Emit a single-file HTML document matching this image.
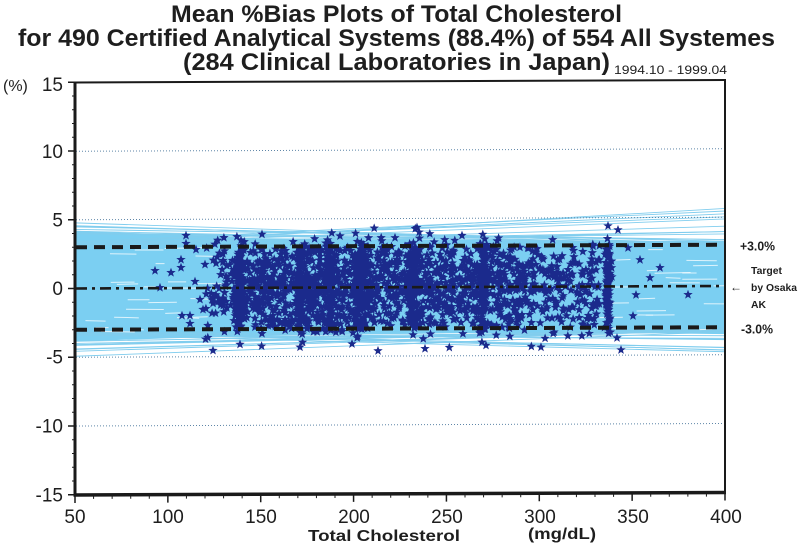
<!DOCTYPE html>
<html><head><meta charset="utf-8"><style>
html,body{margin:0;padding:0;background:#fff;}
svg{display:block;}
text{font-family:"Liberation Sans",Arial,sans-serif;fill:#1e1e1e;}
</style></head><body>
<svg id="s" width="799" height="549" viewBox="0 0 799 549" xmlns="http://www.w3.org/2000/svg">
<rect width="799" height="549" fill="#fff"/>
<text x="171" y="22" font-size="24.5" font-weight="bold" textLength="451" lengthAdjust="spacingAndGlyphs">Mean %Bias Plots of Total Cholesterol</text>
<text x="18" y="46" font-size="24.5" font-weight="bold" textLength="757" lengthAdjust="spacingAndGlyphs">for 490 Certified Analytical Systems (88.4%) of 554 All Systemes</text>
<text x="183" y="70" font-size="24.5" font-weight="bold" textLength="427" lengthAdjust="spacingAndGlyphs">(284 Clinical Laboratories in Japan)</text>
<text x="614" y="74" font-size="12" textLength="113" lengthAdjust="spacingAndGlyphs">1994.10 - 1999.04</text>

<g id="plot" transform="matrix(1,-0.00385,0,1,0,0.289)">
  <g id="band"></g>
  <g stroke="#5f86a8" stroke-width="1" stroke-dasharray="1 2" fill="none">
    <line x1="76" y1="151.25" x2="724" y2="151.25"/>
    <line x1="76" y1="219.75" x2="724" y2="219.75"/>
    <line x1="76" y1="357.25" x2="724" y2="357.25"/>
    <line x1="76" y1="426" x2="724" y2="426"/>
  </g>
  <path id="stars" fill="#1b2a8c" d=""/>
  <g fill="none" stroke="#1a1a1a">
    <line x1="76" y1="247.25" x2="725" y2="247.25" stroke-width="4" stroke-dasharray="11 7"/>
    <line x1="76" y1="329.75" x2="725" y2="329.75" stroke-width="4" stroke-dasharray="11 7"/>
    <line x1="76" y1="288.5" x2="725" y2="288.5" stroke-width="2.6" stroke-dasharray="11 5 3 5"/>
  </g>
  <g stroke="#1a1a1a" fill="none">
    <line x1="75" y1="82" x2="75" y2="496.5" stroke-width="3"/>
    <line x1="73.5" y1="495" x2="726" y2="495" stroke-width="3.5"/>
    <line x1="74" y1="82.5" x2="726" y2="82.5" stroke-width="2"/>
    <line x1="725" y1="82" x2="725" y2="495" stroke-width="2"/>
  </g>
  <g id="ticks" stroke="#1a1a1a" stroke-width="1.5"></g>
</g>

<g font-size="19" text-anchor="end">
  <text x="63" y="91">15</text>
  <text x="63" y="158">10</text>
  <text x="63" y="226.5">5</text>
  <text x="63" y="295">0</text>
  <text x="63" y="363.5">-5</text>
  <text x="63" y="432.5">-10</text>
  <text x="63" y="501.5">-15</text>
</g>
<text x="3" y="91" font-size="16">(%)</text>
<g font-size="19" text-anchor="middle">
  <text x="75" y="523">50</text>
  <text x="168" y="523">100</text>
  <text x="261" y="523">150</text>
  <text x="354" y="523">200</text>
  <text x="447" y="523">250</text>
  <text x="540" y="523">300</text>
  <text x="633" y="523">350</text>
  <text x="726" y="523">400</text>
</g>
<text x="308" y="541" font-size="16" font-weight="bold" textLength="152" lengthAdjust="spacingAndGlyphs">Total Cholesterol</text>
<text x="528" y="539" font-size="16" font-weight="bold" textLength="68" lengthAdjust="spacingAndGlyphs">(mg/dL)</text>

<text x="740" y="250.5" font-size="13" font-weight="bold" textLength="35" lengthAdjust="spacingAndGlyphs">+3.0%</text>
<text x="741" y="333.5" font-size="13" font-weight="bold" textLength="32" lengthAdjust="spacingAndGlyphs">-3.0%</text>
<text x="751" y="274" font-size="10.5" font-weight="bold" textLength="31" lengthAdjust="spacingAndGlyphs">Target</text>
<text x="751" y="291" font-size="10.5" font-weight="bold" textLength="46" lengthAdjust="spacingAndGlyphs">by Osaka</text>
<text x="751" y="308" font-size="10.5" font-weight="bold" textLength="15" lengthAdjust="spacingAndGlyphs">AK</text>
<text x="730" y="291" font-size="12" textLength="12" lengthAdjust="spacingAndGlyphs">←</text>
</svg>
<script>
(function(){
var NS="http://www.w3.org/2000/svg";
function rng(a){return function(){a|=0;a=a+0x6D2B79F5|0;var t=Math.imul(a^a>>>15,1|a);t=t+Math.imul(t^t>>>7,61|t)^t;return((t^t>>>14)>>>0)/4294967296;};}
var R=rng(20240607);
function g(){var u=0;for(var i=0;i<4;i++)u+=R();return (u-2)/0.57735;}
function X(v){return 75+(v-50)*650/350;}
function Y(b){return 288.5-b*13.75;}
function el(tag,attrs,parent){var e=document.createElementNS(NS,tag);for(var k in attrs)e.setAttribute(k,attrs[k]);parent.appendChild(e);return e;}

// band
var band=document.getElementById('band');
var top=[[50,4.2],[100,3.9],[150,3.6],[250,3.45],[350,3.3],[400,3.3]];
var bot=[[400,-3.5],[350,-3.4],[250,-3.35],[150,-3.5],[100,-3.65],[50,-3.85]];
var pts=top.concat(bot).map(function(p){return X(p[0]).toFixed(1)+','+Y(p[1]).toFixed(1);}).join(' ');
el('polygon',{points:pts,fill:'#7bcff2'},band);
var i,L,Rr,lc='#80cdee';
for(i=0;i<9;i++){
  L=3.9+R()*1.1; Rr=2.9+R()*0.5;
  el('line',{x1:X(50),y1:Y(L),x2:X(400),y2:Y(Rr),stroke:lc,'stroke-width':0.9},band);
}
for(i=0;i<9;i++){
  L=3.0+R()*0.5; Rr=3.6+R()*2.2;
  el('line',{x1:X(50),y1:Y(L),x2:X(400),y2:Y(Rr),stroke:lc,'stroke-width':0.9},band);
}
for(i=0;i<9;i++){
  L=-3.8-R()*1.2; Rr=-2.9-R()*0.5;
  el('line',{x1:X(50),y1:Y(L),x2:X(400),y2:Y(Rr),stroke:lc,'stroke-width':0.9},band);
}
for(i=0;i<9;i++){
  L=-3.0-R()*0.5; Rr=-3.6-R()*1.25;
  el('line',{x1:X(50),y1:Y(L),x2:X(400),y2:Y(Rr),stroke:lc,'stroke-width':0.9},band);
}
for(i=0;i<45;i++){
  var left=R()<0.55;
  var x0=left?(78+R()*120):(590+R()*125);
  var len=8+R()*30;
  var b=(R()*2-1)*3.3;
  el('line',{x1:x0,y1:Y(b),x2:x0+len,y2:Y(b)+(R()-0.5)*1.5,stroke:'#ffffff','stroke-width':1,'stroke-opacity':0.75},band);
}

// ticks
var tk=document.getElementById('ticks');
for(var v=-15;v<=15;v++){
  var y=Y(v);
  if(v%5===0) el('line',{x1:68,y1:y,x2:75,y2:y},tk);
  else el('line',{x1:72,y1:y,x2:75,y2:y,'stroke-width':1},tk);
}
for(var m=50;m<=400;m+=10){
  var x=X(m);
  if(m%50===0) el('line',{x1:x,y1:495,x2:x,y2:503},tk);
  else el('line',{x1:x,y1:495,x2:x,y2:499,'stroke-width':1},tk);
}

// stars
var sp=[];
for(i=0;i<10;i++){var a=-Math.PI/2+i*Math.PI/5;var rr=(i%2===0)?4.9:2.05;sp.push([rr*Math.cos(a),rr*Math.sin(a)]);}
var d=[];
function star(x,y){
  var s='M'+(x+sp[0][0]).toFixed(1)+' '+(y+sp[0][1]).toFixed(1);
  for(var k=1;k<10;k++)s+='L'+(x+sp[k][0]).toFixed(1)+' '+(y+sp[k][1]).toFixed(1);
  d.push(s+'Z');
}
function by(sd){var b=g()*sd;if(b>4.4)b=4.4-R()*0.8;if(b<-4.4)b=-4.4+R()*0.8;return b;}
function by2(){return (R()<0.3)?(R()*2-1)*3.0:by(1.55);}
var regions=[[205,236,65],[236,300,310],[300,330,215],[330,400,310],[400,470,295],[470,520,210],[520,600,210]];
regions.forEach(function(r){for(var j=0;j<r[2];j++){star(r[0]+R()*(r[1]-r[0]),Y(by2()));}});
var cols=[[239,2,110],[300,2,60],[330,2,80],[358,3,90],[364,2,60],[413,3,100],[483,2,100],[608,1.5,90]];
cols.forEach(function(c){for(var j=0;j<c[2];j++){var b=(R()<0.75)?(R()*2-1)*3.1:by(1.9);star(c[0]+g()*c[1],Y(b));}});
var extra=[[155,271],[171,273],[181,260],[181,268],[186,236],[186,244],[182,316],[190,316],[190,324],[160,288],[196,250],[200,300],[205,265],[195,282],[203,310],
[688,297],[636,297],[633,318],[621,352],[640,262],[650,280],[628,250],[618,232],[660,270],[617,340],
[608,228],[541,349],[425,350],[378,352],[240,345],[213,351],[300,348],[352,345],[486,347],[395,239],[462,237],[340,237],[262,235]];
extra.forEach(function(p){star(p[0],p[1]);});
document.getElementById('stars').setAttribute('d',d.join(''));
})();
</script>
</body></html>
